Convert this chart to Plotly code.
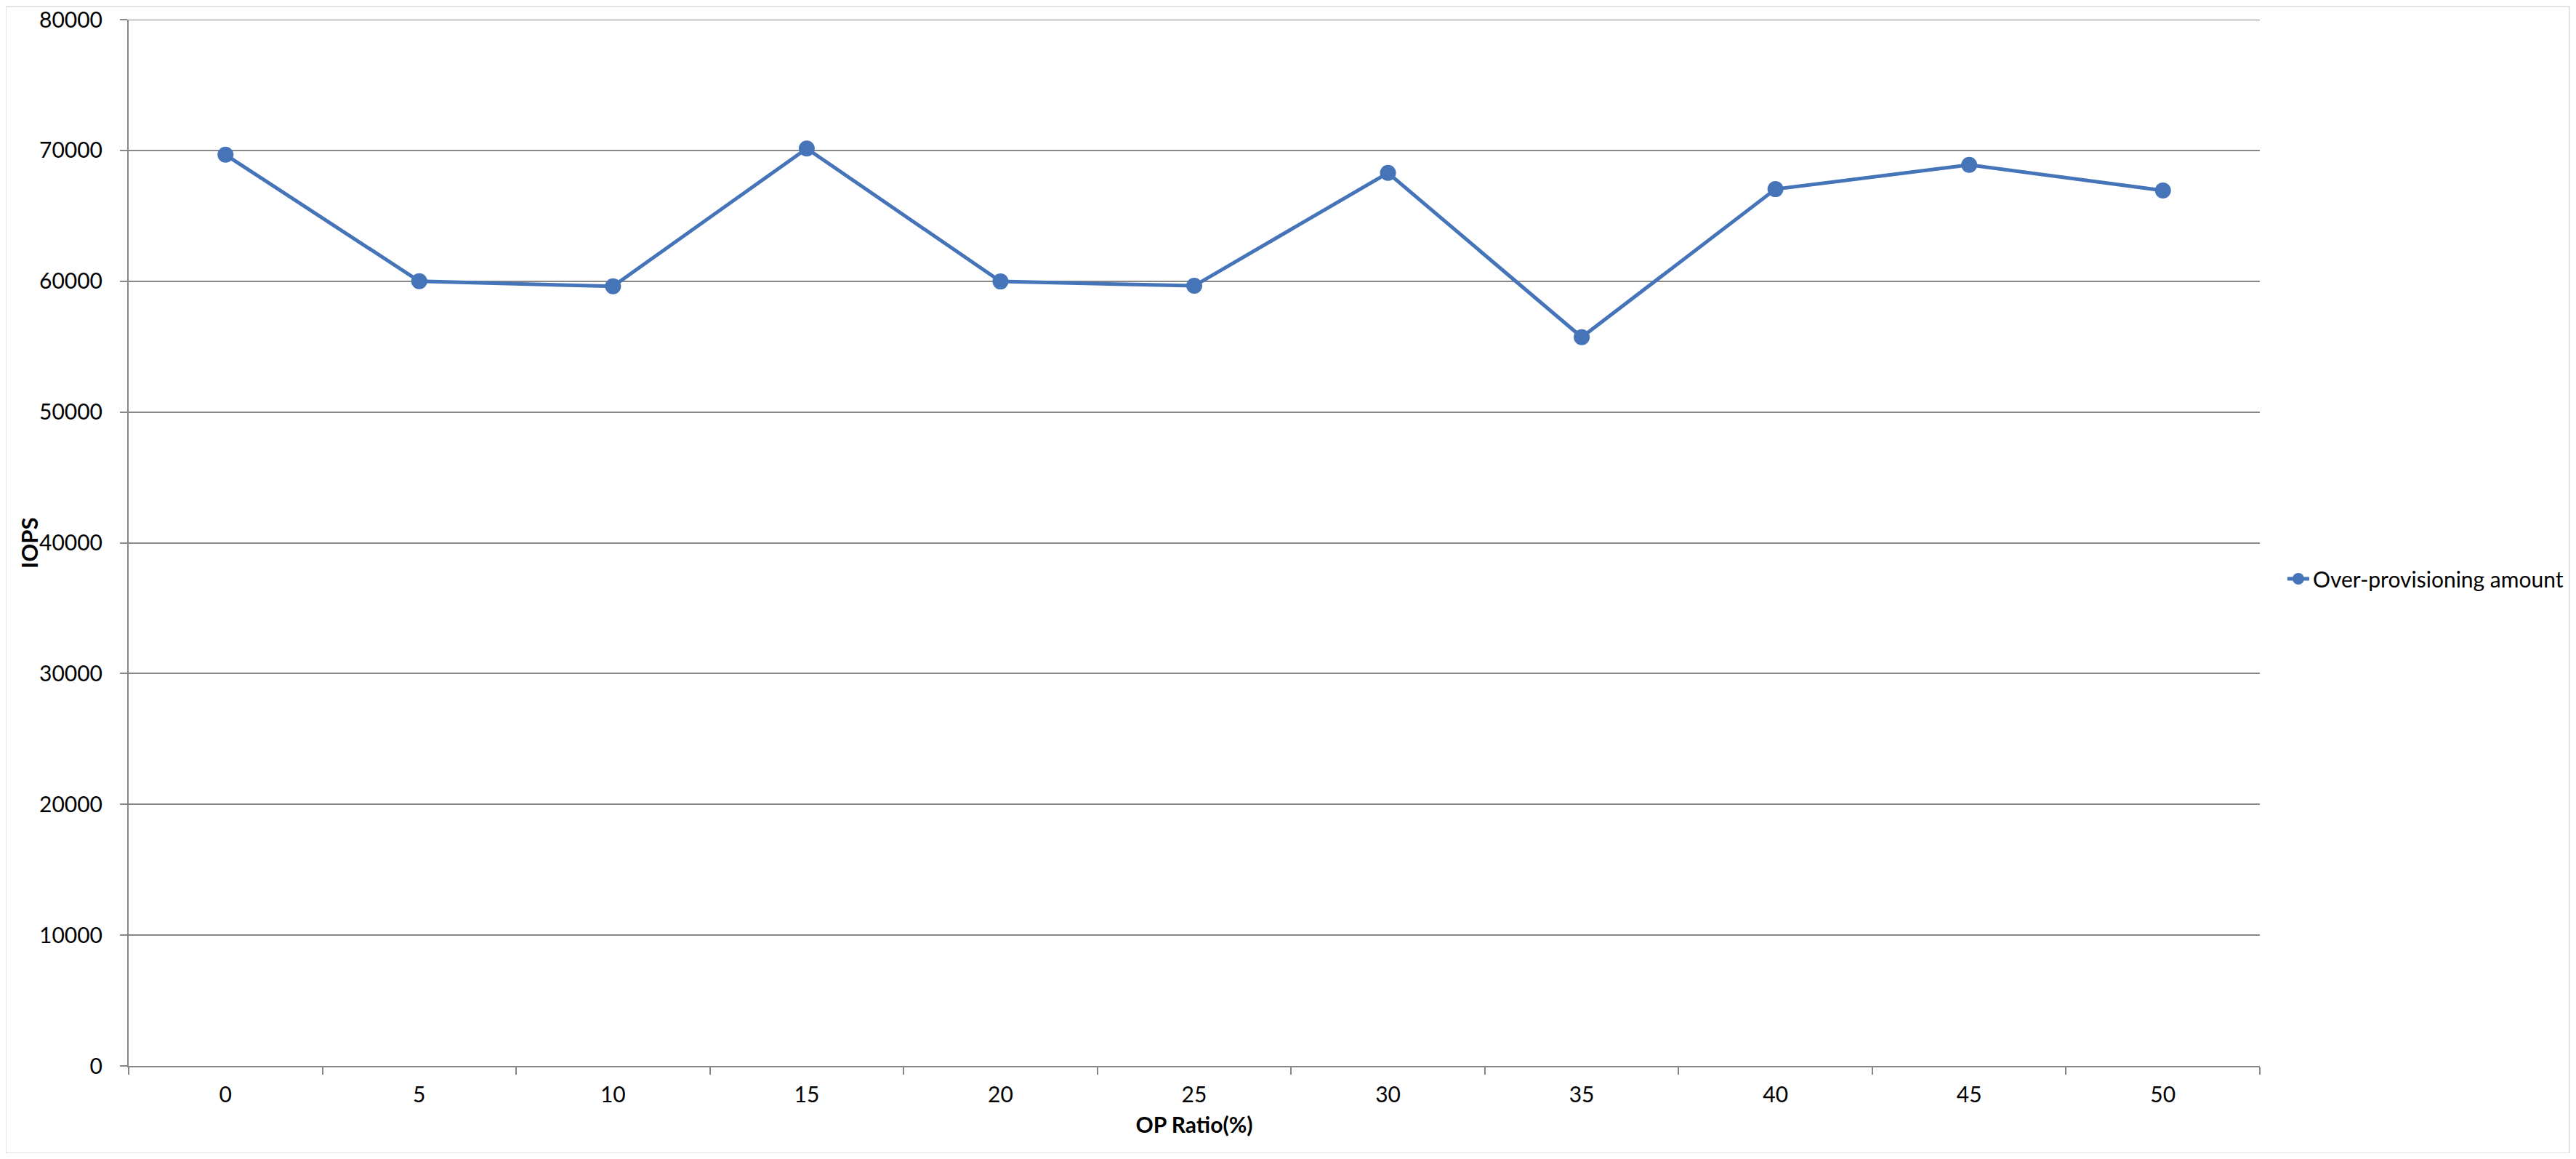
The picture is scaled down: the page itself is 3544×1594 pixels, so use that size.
import plotly.graph_objects as go

op_ratio = ["0", "5", "10", "15", "20", "25", "30", "35", "40", "45", "50"]
iops = [69670, 60000, 59610, 70150, 59980, 59650, 68280, 55720, 67040, 68890, 66940]
series_name = "Over-provisioning amount"
y_ticks = [0, 10000, 20000, 30000, 40000, 50000, 60000, 70000, 80000]
y_max = 80000

# page has an 8px body margin; figure sized to fit the window
OFF = 8
W, H = 3544 - 2 * OFF, 1594 - 2 * OFF
L, R, T, B = 177 - OFF, 3109 - OFF, 27 - OFF, 1466 - OFF

blue = "#4674B8"
grey = "#878787"
font_family = "Lato, 'Liberation Sans', sans-serif"

fig = go.Figure()
fig.add_trace(go.Scatter(
    x=op_ratio, y=iops, mode="lines+markers", name=series_name,
    line=dict(color=blue, width=5),
    marker=dict(color=blue, size=22, symbol="circle"),
    showlegend=True,
))

fig.update_layout(
    width=W, height=H,
    margin=dict(l=L, r=W - R, t=T, b=H - B, pad=0, autoexpand=False),
    paper_bgcolor="white", plot_bgcolor="white",
    font=dict(family=font_family, size=30, color="black"),
    showlegend=True,
    legend=dict(
        x=(3142 - OFF - L) / (R - L), xanchor="left",
        y=(B - (796 - OFF)) / (B - T), yanchor="middle",
        font=dict(size=30, color="black"),
        bgcolor="rgba(0,0,0,0)",
        itemwidth=30,
    ),
    xaxis=dict(
        type="category",
        categoryorder="array", categoryarray=op_ratio,
        range=[-0.5, len(op_ratio) - 0.5],
        showgrid=False, zeroline=False,
        showline=True, linecolor=grey, linewidth=2,
        ticks="outside", ticklen=10, tickwidth=2, tickcolor=grey,
        tickson="boundaries",
        tickfont=dict(size=30),
        ticklabelstandoff=12,
        title=dict(text="<b>OP Ratio(%)</b>", font=dict(size=30), standoff=16),
        automargin=False,
        fixedrange=True,
    ),
    yaxis=dict(
        range=[0, y_max], tickvals=y_ticks, tickformat="d",
        showgrid=True, gridcolor=grey, gridwidth=2,
        zeroline=False,
        showline=True, linecolor=grey, linewidth=2,
        ticks="outside", ticklen=10, tickwidth=2, tickcolor=grey,
        tickfont=dict(size=30),
        ticklabelstandoff=18,
        ticklabeloverflow="allow",
        automargin=False,
        fixedrange=True,
    ),
    annotations=[dict(
        text="<b>IOPS</b>", textangle=-90,
        xref="paper", yref="paper",
        x=(40 - OFF - L) / (R - L), xanchor="center",
        y=(B - (747 - OFF)) / (B - T), yanchor="middle",
        showarrow=False, font=dict(size=31, color="black"),
    )],
    shapes=[
        dict(
            type="line", xref="paper", yref="y",
            x0=0, x1=1, y0=y_max, y1=y_max,
            line=dict(color=grey, width=2), layer="below",
        ),
        dict(
            type="rect", xref="paper", yref="paper",
            x0=-L / (R - L), x1=(W - 1 - L) / (R - L),
            y0=-(H - B) / (B - T), y1=(B - 1) / (B - T),
            line=dict(color="#e3e3e3", width=2), fillcolor="rgba(0,0,0,0)",
            layer="below",
        ),
    ],
)

fig.write_html("out.html")
